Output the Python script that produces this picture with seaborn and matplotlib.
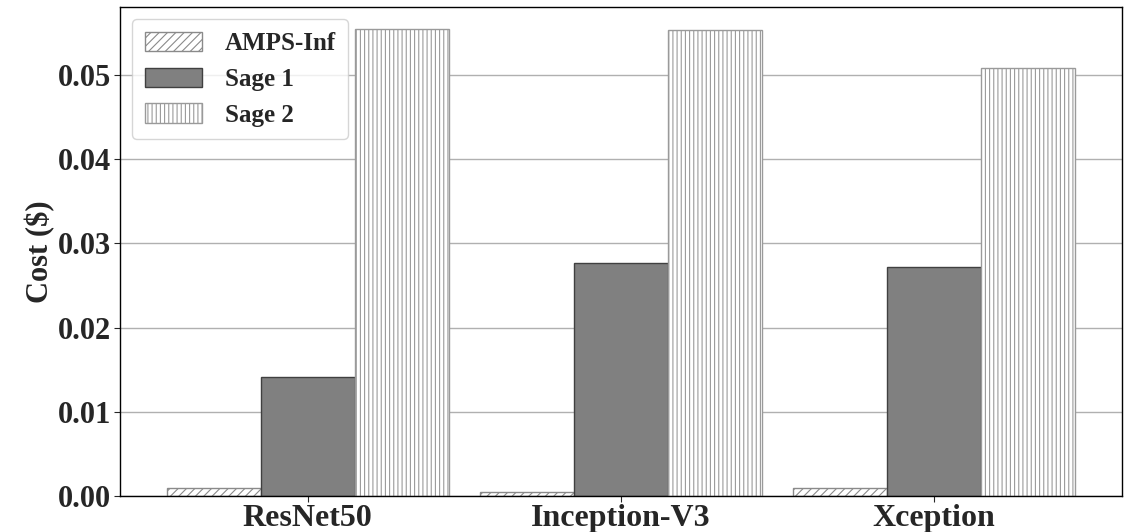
import pandas as pd
import seaborn as sns
import matplotlib.pyplot as plt

# Values
models = ['ResNet50', 'Inception-V3', 'Xception']
amps_inf = [0.00095, 0.0004, 0.00095]
sage_1 = [0.0141, 0.0277, 0.0272]
sage_2 = [0.0555, 0.0554, 0.0509]
series = ['AMPS-Inf', 'Sage 1', 'Sage 2']

df = pd.DataFrame({
    'model': models * 3,
    'cost': amps_inf + sage_1 + sage_2,
    'system': [s for s in series for _ in models],
})

sns.set_style('white')
plt.rcParams['font.family'] = ['Liberation Serif', 'DejaVu Serif']
plt.rcParams['font.weight'] = 'bold'
plt.rcParams['hatch.linewidth'] = 0.8

fig, ax = plt.subplots(figsize=(11.3, 5.32), dpi=100)
ax.yaxis.grid(True, color='#b0b0b0', linewidth=1)
ax.set_axisbelow(True)

sns.barplot(data=df, x='model', y='cost', hue='system', hue_order=series,
            width=0.9, ax=ax, saturation=1, legend=True)

styles = {
    'AMPS-Inf': dict(facecolor='white', edgecolor='#8a8a8a', hatch='////'),
    'Sage 1': dict(facecolor='#808080', edgecolor='#404040', hatch=''),
    'Sage 2': dict(facecolor='white', edgecolor='#9a9a9a', hatch='||||'),
}
for cont, name in zip(ax.containers, series):
    for bar in cont:
        bar.set_facecolor(styles[name]['facecolor'])
        bar.set_edgecolor(styles[name]['edgecolor'])
        bar.set_hatch(styles[name]['hatch'])
        bar.set_linewidth(1)

handles, labels = ax.get_legend_handles_labels()
for h, name in zip(handles, series):
    h.set_facecolor(styles[name]['facecolor'])
    h.set_edgecolor(styles[name]['edgecolor'])
    h.set_hatch(styles[name]['hatch'])
ax.legend(handles, labels, loc='upper left', frameon=True,
          handlelength=2.3, handleheight=0.8, borderpad=0.5, labelspacing=0.5,
          handletextpad=0.9, prop={'weight': 'bold', 'size': 18})

ax.set_xlim(-0.6, 2.6)
ax.set_ylim(0, 0.0581)
ax.set_yticks([0.0, 0.01, 0.02, 0.03, 0.04, 0.05])
ax.set_yticklabels(['0.00', '0.01', '0.02', '0.03', '0.04', '0.05'])
ax.tick_params(axis='y', labelsize=22, length=4, left=True, pad=2)
ax.tick_params(axis='x', labelsize=23, length=4, bottom=True, pad=2)
for lab in ax.get_xticklabels() + ax.get_yticklabels():
    lab.set_fontweight('bold')
ax.set_xlabel('')
ax.set_ylabel('Cost ($)', fontsize=22, fontweight='bold', labelpad=2)
for sp in ax.spines.values():
    sp.set_color('black')
    sp.set_linewidth(1)

plt.subplots_adjust(left=0.106, right=0.993, top=0.987, bottom=0.068)
plt.savefig('out.png', dpi=100)
